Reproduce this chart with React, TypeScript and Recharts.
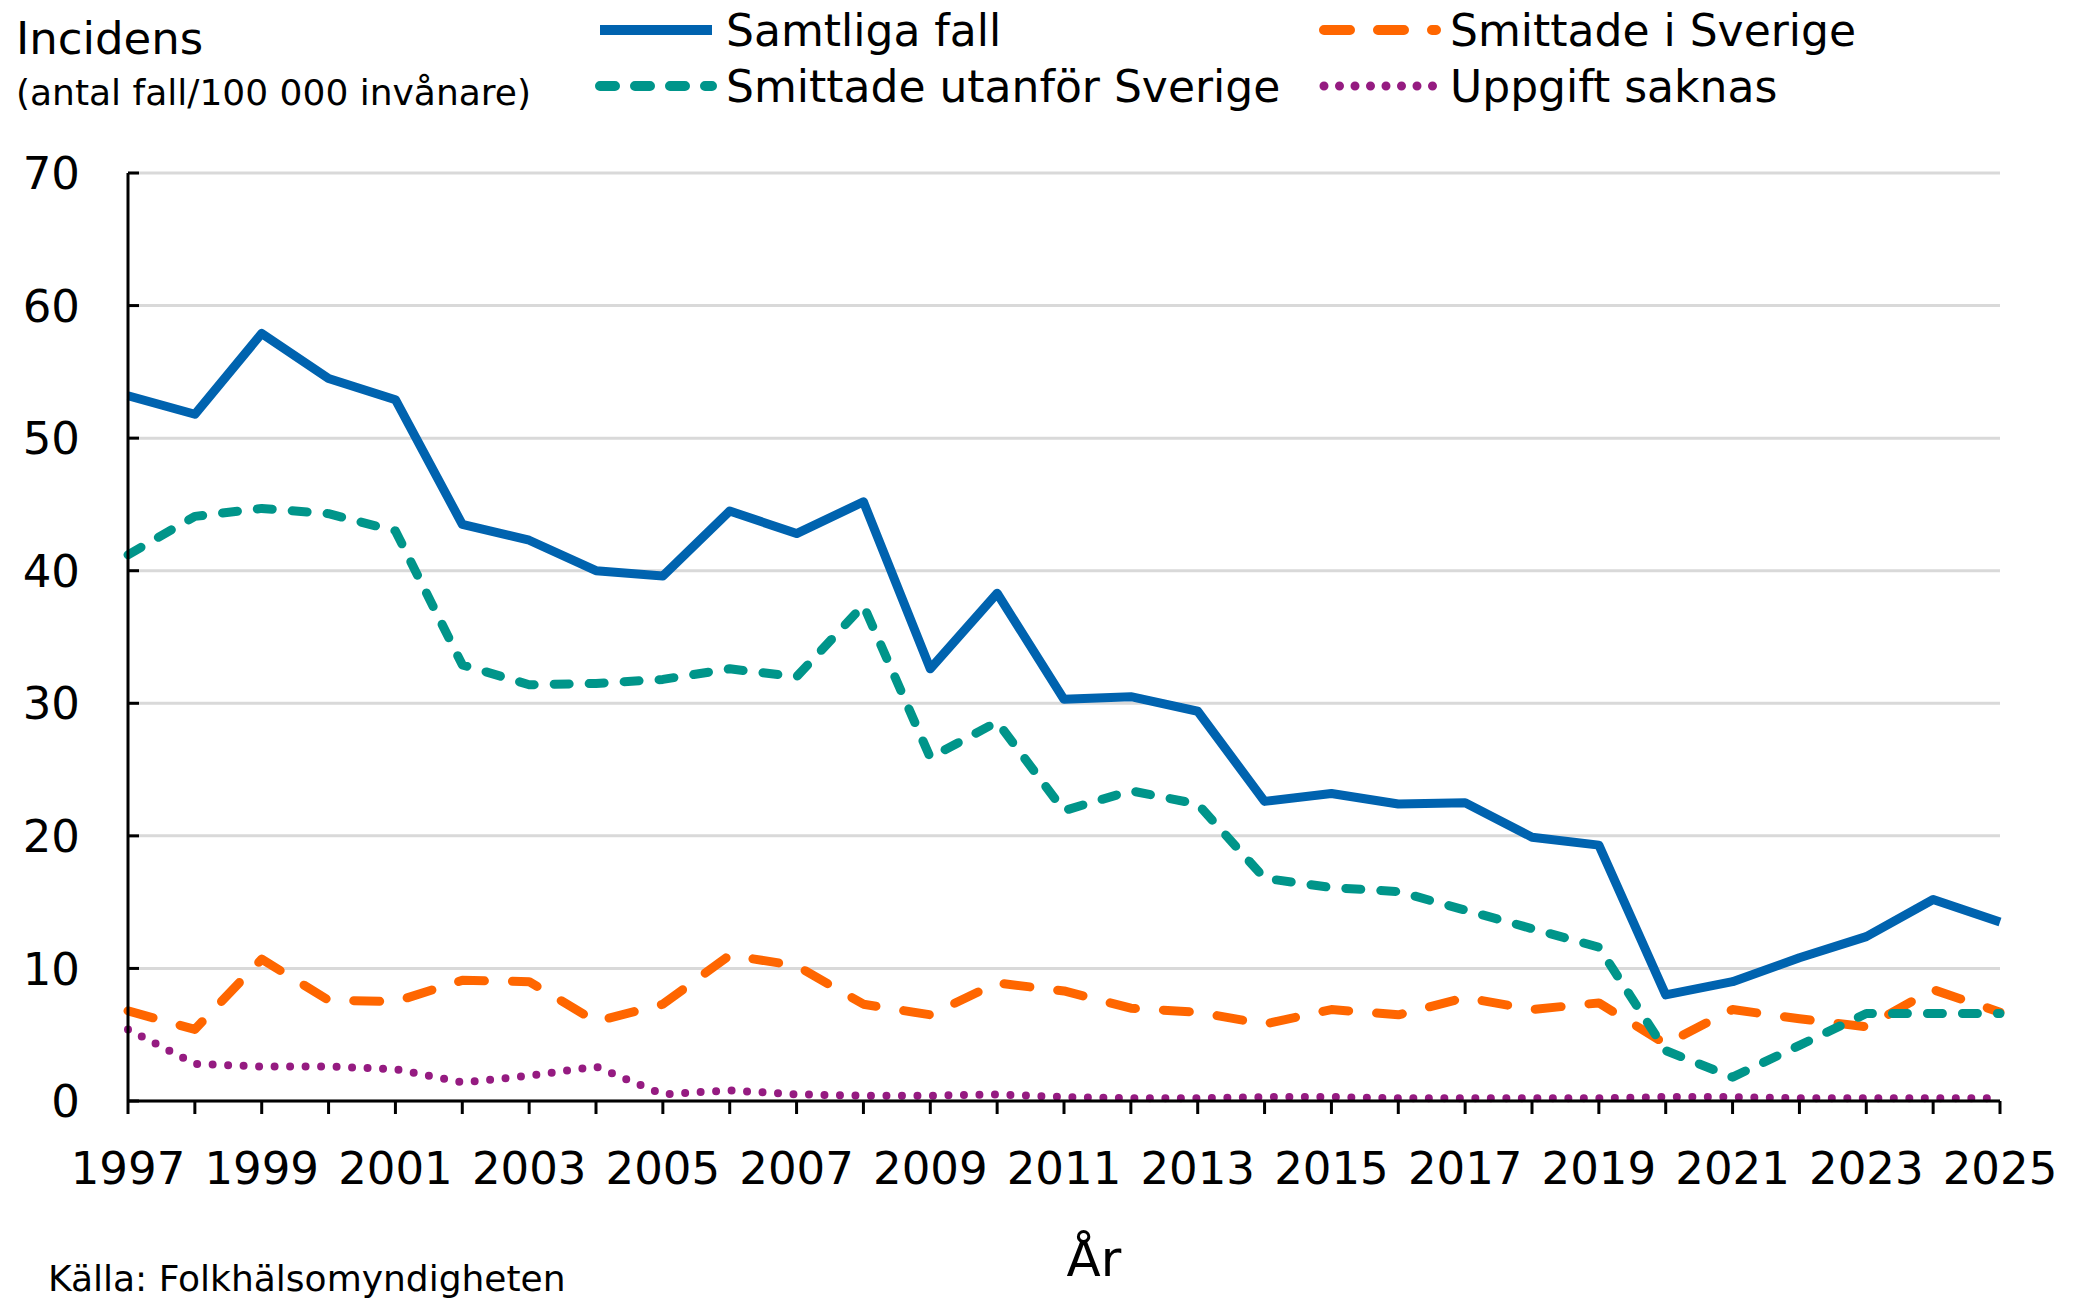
import { LineChart, Line, XAxis, YAxis, CartesianGrid } from 'recharts';

const years = [
  1997, 1998, 1999, 2000, 2001, 2002, 2003, 2004, 2005, 2006, 2007, 2008, 2009, 2010, 2011,
  2012, 2013, 2014, 2015, 2016, 2017, 2018, 2019, 2020, 2021, 2022, 2023, 2024, 2025,
];

const samtliga = [
  53.2, 51.8, 57.9, 54.5, 52.9, 43.5, 42.3, 40.0, 39.6, 44.5, 42.8, 45.2, 32.6, 38.3, 30.3,
  30.5, 29.4, 22.6, 23.2, 22.4, 22.5, 19.9, 19.3, 8.0, 9.0, 10.8, 12.4, 15.2, 13.5,
];

const utanfor = [
  41.2, 44.1, 44.7, 44.3, 43.0, 32.9, 31.4, 31.5, 31.8, 32.6, 32.0, 37.4, 25.9, 28.6, 21.9,
  23.4, 22.4, 16.8, 16.1, 15.8, 14.4, 13.0, 11.6, 3.8, 1.8, 4.2, 6.6, 6.6, 6.6,
];

const iSverige = [
  6.8, 5.4, 10.7, 7.6, 7.5, 9.1, 9.0, 6.0, 7.3, 11.0, 10.2, 7.3, 6.5, 8.9, 8.3,
  7.0, 6.7, 5.8, 6.9, 6.5, 7.8, 6.9, 7.4, 4.3, 6.9, 6.2, 5.6, 8.4, 6.7,
];

const saknas = [
  5.4, 2.8, 2.6, 2.6, 2.4, 1.4, 1.9, 2.6, 0.5, 0.8, 0.5, 0.4, 0.4, 0.5, 0.3,
  0.2, 0.2, 0.3, 0.3, 0.2, 0.2, 0.2, 0.2, 0.3, 0.3, 0.2, 0.2, 0.2, 0.2,
];

const yTicks = [0, 10, 20, 30, 40, 50, 60, 70];

const data = years.map((year, i) => ({
  year,
  samtliga: samtliga[i],
  utanfor: utanfor[i],
  iSverige: iSverige[i],
  saknas: saknas[i],
}));

const FONT = '"DejaVu Sans", Verdana, sans-serif';

const series = [
  { key: 'samtliga', name: 'Samtliga fall', color: '#0063AF', dash: undefined, width: 9 },
  { key: 'iSverige', name: 'Smittade i Sverige', color: '#FF6600', dash: '26 28', width: 9 },
  { key: 'utanfor', name: 'Smittade utanför Sverige', color: '#00958A', dash: '15 20', width: 9 },
  { key: 'saknas', name: 'Uppgift saknas', color: '#951B81', dash: '0 15.5', width: 8 },
];

// y ticks point inwards, so draw them from the axis line itself
const YTick = (props: any) => {
  const { x, y, payload } = props;
  return (
    <g>
      <line x1={x} x2={x + 11} y1={y} y2={y} stroke="#000" strokeWidth={3} />
      <text x={x - 48} y={y} dy="0.36em" textAnchor="end" fontSize={45} fontFamily={FONT} fill="#000">
        {payload.value}
      </text>
    </g>
  );
};

const LegendItem = ({ s, left, top }: any) => (
  <div style={{ position: 'absolute', left, top, display: 'flex', alignItems: 'center', height: 56 }}>
    <svg width={124} height={20} style={{ marginRight: 8 }}>
      <line
        x1={6}
        x2={118}
        y1={10}
        y2={10}
        stroke={s.color}
        strokeWidth={s.width + 1}
        strokeDasharray={s.dash}
        strokeLinecap={s.dash ? 'round' : 'butt'}
      />
    </svg>
    <span style={{ fontFamily: FONT, fontSize: 44, color: '#000', whiteSpace: 'nowrap' }}>{s.name}</span>
  </div>
);

const App = () => {
  return (
    <div style={{ position: 'absolute', left: 0, top: 0, width: 2082, height: 1302, background: '#fff' }}>
      <LineChart
        width={2082}
        height={1302}
        data={data}
        margin={{ top: 173, right: 82, bottom: 0, left: 0 }}
      >
        <CartesianGrid vertical={false} stroke="#d9d9d9" strokeWidth={3} />
        <XAxis
          dataKey="year"
          type="number"
          domain={[1997, 2025]}
          ticks={years}
          interval={0}
          tickFormatter={(v: number) => ((v - 1997) % 2 === 0 ? String(v) : '')}
          stroke="#000"
          strokeWidth={3}
          tickSize={13}
          tickMargin={38}
          tick={{ fontSize: 45, fontFamily: FONT, fill: '#000' }}
          height={201}
        />
        <YAxis
          domain={[0, 70]}
          ticks={yTicks}
          interval={0}
          stroke="#000"
          strokeWidth={3}
          tickSize={0}
          tickMargin={0}
          tick={<YTick />}
          width={128}
        />
        {series.map((s) => (
          <Line
            key={s.key}
            dataKey={s.key}
            type="linear"
            stroke={s.color}
            strokeWidth={s.width}
            strokeDasharray={s.dash}
            strokeLinecap={s.dash ? 'round' : 'butt'}
            strokeLinejoin="round"
            dot={false}
            activeDot={false}
            isAnimationActive={false}
          />
        ))}
      </LineChart>

      <div style={{ position: 'absolute', left: 16, top: 12, fontFamily: FONT, fontSize: 45, color: '#000' }}>
        Incidens
      </div>
      <div style={{ position: 'absolute', left: 16, top: 72, fontFamily: FONT, fontSize: 36, color: '#000' }}>
        (antal fall/100 000 invånare)
      </div>

      <LegendItem s={series[0]} left={594} top={2} />
      <LegendItem s={series[1]} left={1318} top={2} />
      <LegendItem s={series[2]} left={594} top={58} />
      <LegendItem s={series[3]} left={1318} top={58} />

      <div style={{ position: 'absolute', left: 1094, top: 1230, transform: 'translateX(-50%)', fontFamily: FONT, fontSize: 50, color: '#000' }}>
        År
      </div>
      <div style={{ position: 'absolute', left: 48, top: 1258, fontFamily: FONT, fontSize: 36, color: '#000' }}>
        Källa: Folkhälsomyndigheten
      </div>
    </div>
  );
};

export default App;
